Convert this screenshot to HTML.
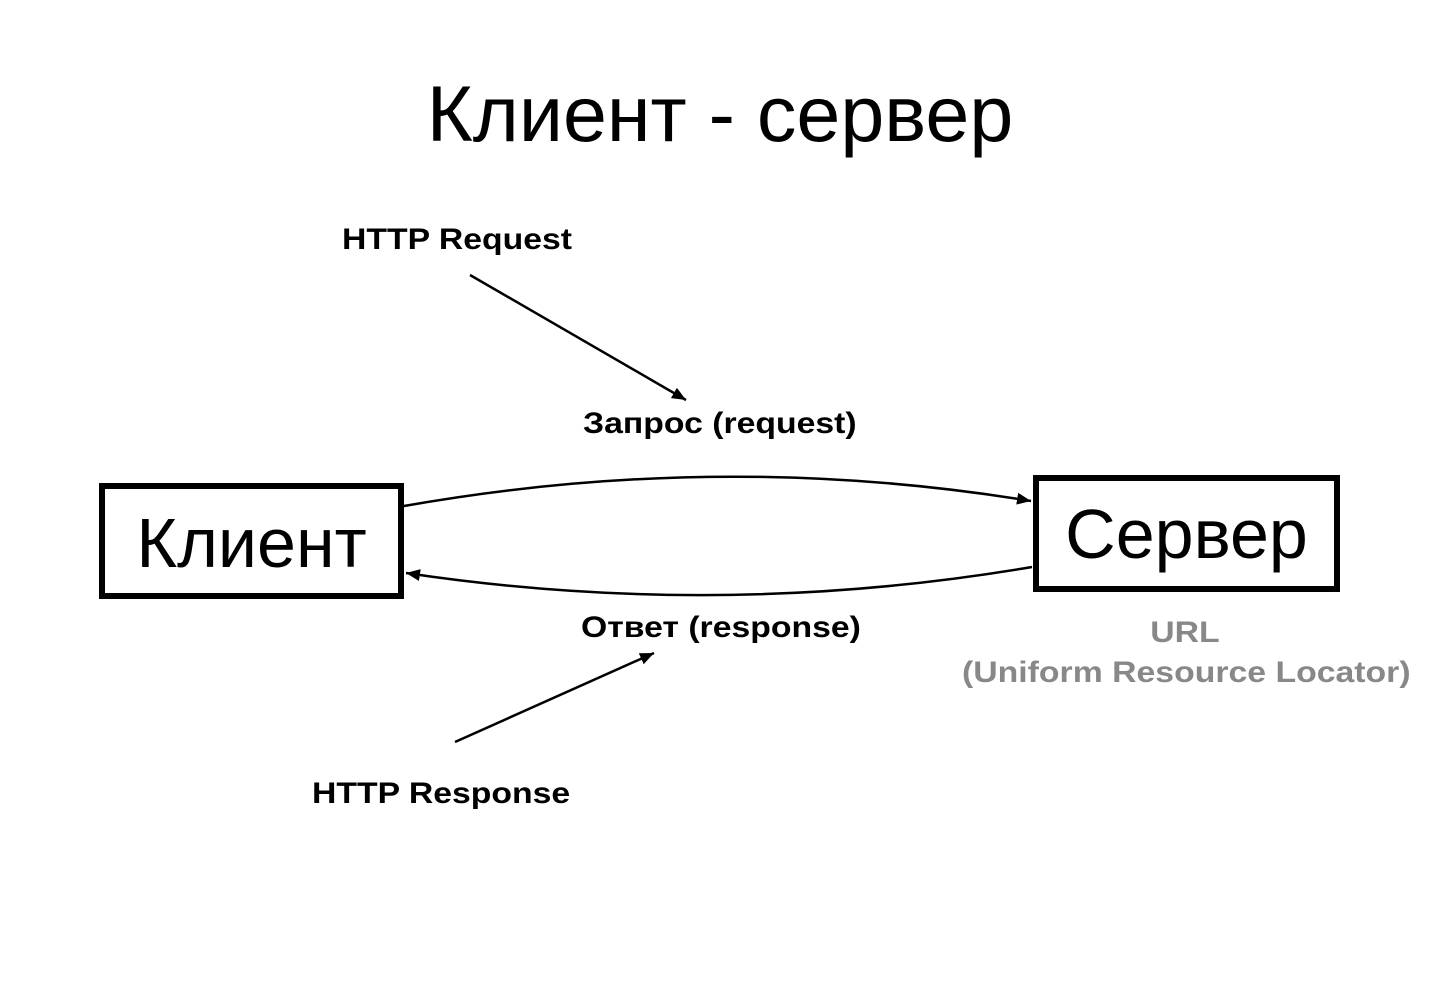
<!DOCTYPE html>
<html><head><meta charset="utf-8"><style>
html,body{margin:0;padding:0;background:#fff;}
body{width:1440px;height:989px;position:relative;overflow:hidden;font-family:"Liberation Sans",sans-serif;}
.t{position:absolute;white-space:nowrap;}
.b{font-weight:bold;font-size:30px;transform:scaleX(1.125);transform-origin:left top;}
</style></head><body>
<div class="t" style="left:0;width:1440px;text-align:center;top:68px;font-size:79px;">Клиент - сервер</div>
<div class="t b" style="left:342px;top:223px;">HTTP Request</div>
<div class="t b" style="left:583px;top:407px;">Запрос (request)</div>
<div class="t b" style="left:581px;top:611px;">Ответ (response)</div>
<div class="t b" style="left:312px;top:777px;">HTTP Response</div>
<div class="t" style="left:962px;width:396px;text-align:center;top:613px;color:#888;line-height:40px;font-weight:bold;font-size:30px;transform:scaleX(1.126);transform-origin:left top;">URL<br>(Uniform Resource Locator)</div>
<div class="t" style="left:99px;top:483px;width:293px;height:104px;border:6px solid #000;font-size:70px;text-align:center;line-height:108px;">Клиент</div>
<div class="t" style="left:1033px;top:475px;width:295px;height:105px;border:6px solid #000;font-size:70px;text-align:center;line-height:106px;">Сервер</div>
<svg width="1440" height="989" style="position:absolute;left:0;top:0">
<defs><marker id="a" markerWidth="16" markerHeight="14" refX="14" refY="6" orient="auto" markerUnits="userSpaceOnUse"><path d="M0,0 L14,6 L0,12 z" fill="#000"/></marker></defs>
<g stroke="#000" stroke-width="2.5" fill="none">
<path d="M404,506 Q720,450 1031,501" marker-end="url(#a)"/>
<path d="M1032,567 Q720,620 406,573" marker-end="url(#a)"/>
<path d="M470,275 L686,400" marker-end="url(#a)"/>
<path d="M455,742 L654,653" marker-end="url(#a)"/>
</g></svg>
</body></html>
